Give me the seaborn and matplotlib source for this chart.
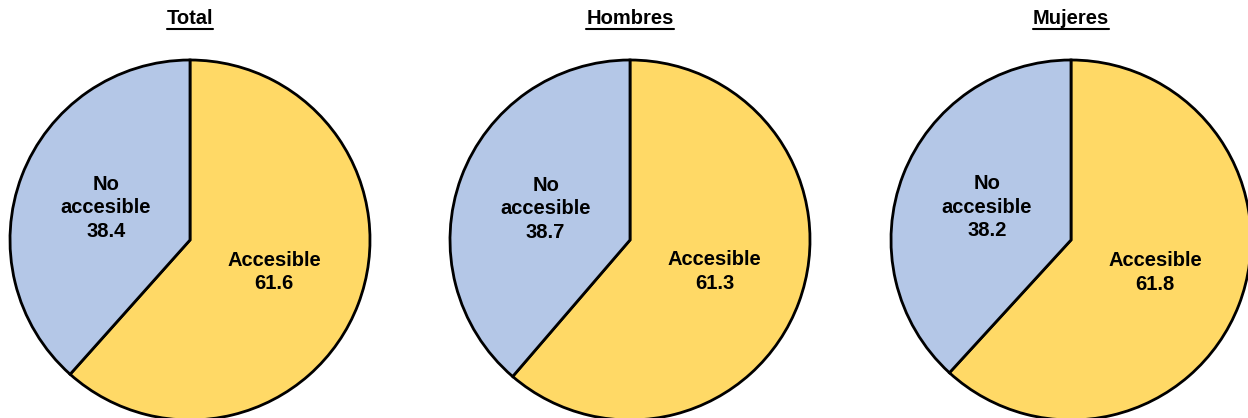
import matplotlib
matplotlib.use("Agg")
import matplotlib.pyplot as plt
import seaborn as sns
from matplotlib.lines import Line2D

groups = ["Total", "Hombres", "Mujeres"]
categories = ["Accesible", "No\naccesible"]
accesible = [61.6, 61.3, 61.8]
no_accesible = [38.4, 38.7, 38.2]
colors = ["#FFD966", "#B4C7E7"]

sns.set_theme(style="white")
plt.rcParams["font.family"] = ["Liberation Sans", "DejaVu Sans"]

W, H = 1248, 418
fig = plt.figure(figsize=(W / 100, H / 100), dpi=100)
fig.patch.set_facecolor("white")

centers_x = [190, 630, 1071]
center_y = 240
radius = 180

title_texts = []
for i, g in enumerate(groups):
    cx = centers_x[i]
    ax = fig.add_axes([(cx - radius) / W, (H - center_y - radius) / H,
                       2 * radius / W, 2 * radius / H])
    vals = [accesible[i], no_accesible[i]]
    labels = [f"{c}\n{v:.1f}" for c, v in zip(categories, vals)]
    ax.pie(vals, labels=labels, colors=colors, startangle=90, counterclock=False,
           labeldistance=0.5,
           wedgeprops=dict(edgecolor="black", linewidth=2),
           textprops=dict(fontsize=14.5, fontweight="bold", color="black",
                          ha="center", va="center", linespacing=1.3))
    ax.set_xlim(-1, 1)
    ax.set_ylim(-1, 1)
    ax.set_aspect("equal")
    ax.axis("off")
    t = fig.text(cx / W, 1 - 18 / H, g, ha="center", va="center",
                 fontsize=14.5, fontweight="bold", color="black")
    title_texts.append(t)

# underline the subtitles
fig.canvas.draw()
renderer = fig.canvas.get_renderer()
for t in title_texts:
    bb = t.get_window_extent(renderer=renderer)
    y = (bb.y0 - 1) / H
    fig.add_artist(Line2D([bb.x0 / W, bb.x1 / W], [y, y], color="black",
                          linewidth=1.5, transform=fig.transFigure))

fig.savefig("out.png", dpi=100, facecolor="white")
